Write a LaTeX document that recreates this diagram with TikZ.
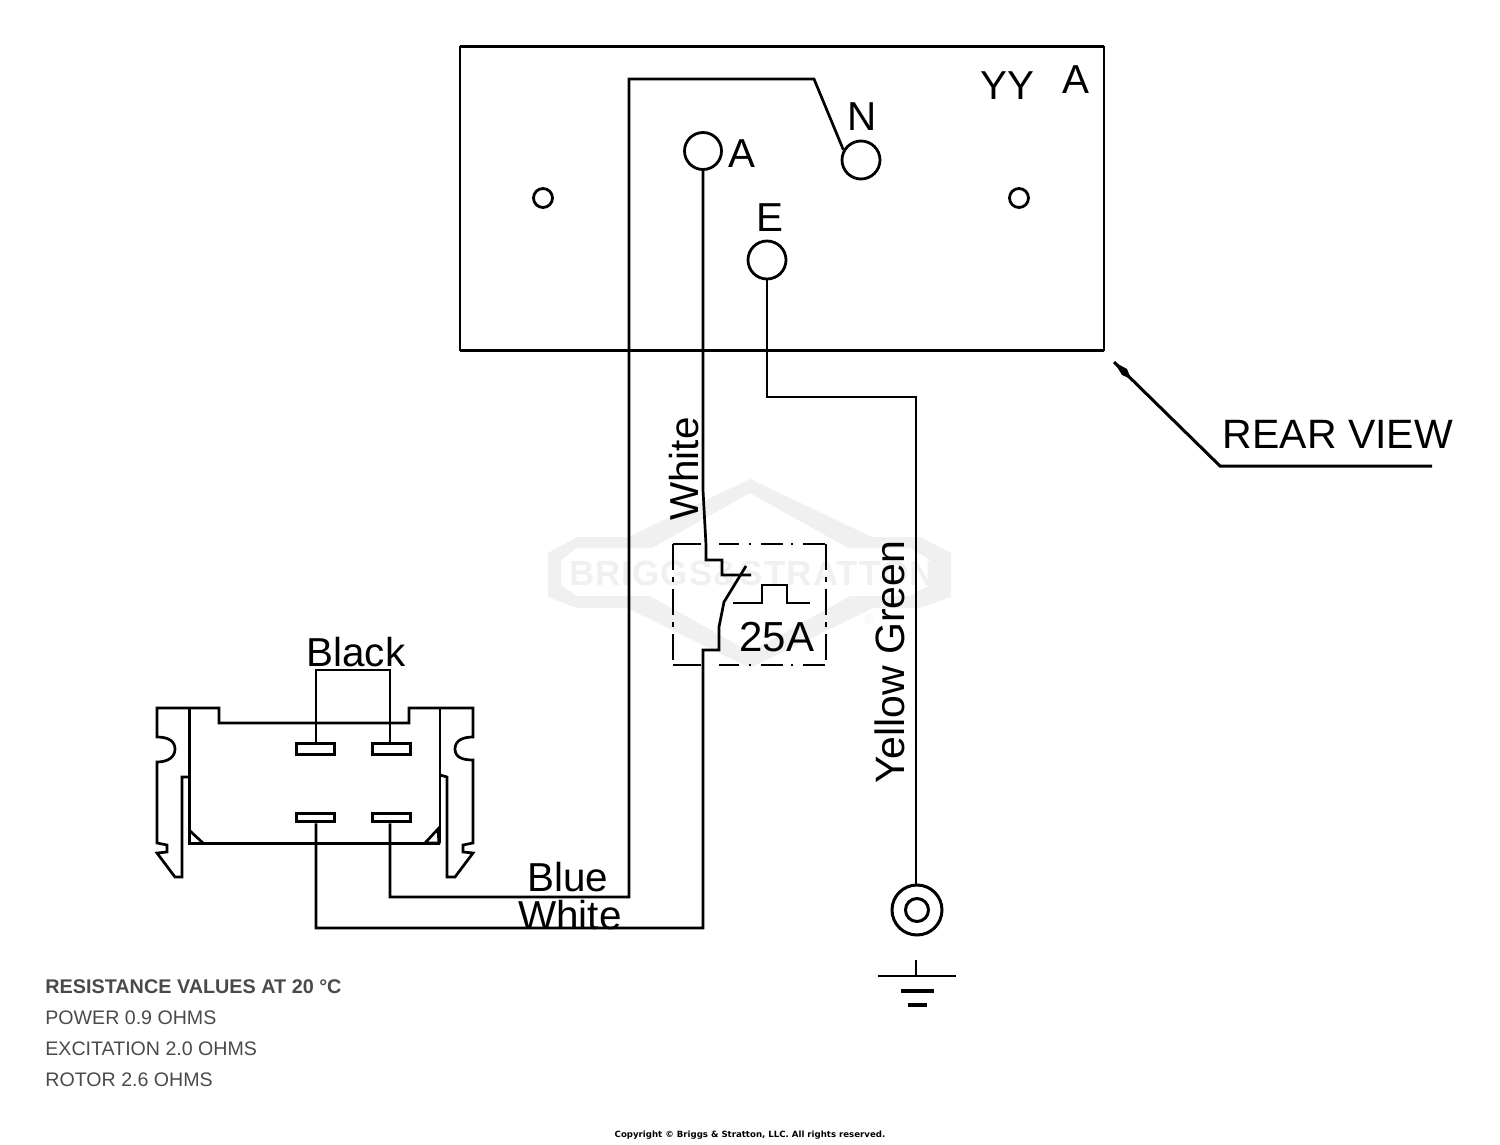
\documentclass[tikz,border=0pt]{standalone}
\usepackage{fontspec}
\setmainfont{Liberation Sans}
\newfontfamily\copyfont{DejaVu Sans}
\definecolor{wm}{HTML}{F0F0F0}
\definecolor{notegray}{HTML}{4A4A4A}
\tikzset{
  thinwire/.style={line width=1.35pt,line join=miter},
  wire/.style={line width=1.1pt,line join=miter},
  thin line/.style={line width=0.9pt,line join=round},
  terminal/.style={circle,draw,line width=1.4pt,inner sep=0pt,fill=white},
  blade/.style={rectangle,draw,line width=1.5pt,inner sep=0pt,fill=white},
  lab/.style={inner sep=0pt,font=\fontsize{20.2}{20.2}\selectfont},
  note/.style={inner sep=0pt,anchor=west,text=notegray,font=\fontsize{9.8}{12}\selectfont},
}
\begin{document}
\begin{tikzpicture}[x=0.5pt,y=-0.5pt]
\useasboundingbox (0,0) rectangle (1500,1145);
% watermark
\fill[wm,even odd rule]
  (750,479) -- (872,537) -- (920,537) -- (951,553) -- (951,597) -- (920,608) -- (873,608) -- (750,668) -- (627,608) -- (577,608) -- (548,597) -- (548,553) -- (577,537) -- (628,537) -- cycle
  (750,493) -- (848,548) -- (910,548) -- (930,560) -- (930,585) -- (910,596) -- (850,596) -- (750,652) -- (650,596) -- (577,596) -- (561,585) -- (561,560) -- (577,548) -- (652,548) -- cycle;
\node[inner sep=0pt,text=wm,font=\fontsize{17.5}{17.5}\selectfont\bfseries\addfontfeature{LetterSpace=3}] (wmtext) at (752,573) {BRIGGS\&STRATTON};
\node[inner sep=0pt,text=wm,font=\fontsize{7}{7}\selectfont] (wmr) at (869,620) {®};
% panel
\draw[line width=1.1pt] (460,47) rectangle (1104,350);
\draw[line width=1.5pt] (460,47) -- (1104,47) (460,350) -- (1104,350);
\node[terminal,minimum size=18.5pt] (A) at (703,151) {};
\node[terminal,minimum size=19pt] (N) at (861,160) {};
\node[terminal,minimum size=19pt] (E) at (767,260) {};
\node[terminal,minimum size=9.5pt] (hl) at (543,198) {};
\node[terminal,minimum size=9.5pt] (hr) at (1019,198) {};
\node[lab] (lA) at (742,154) {A};
\node[lab] (lN) at (862,117) {N};
\node[lab] (lE) at (770,218) {E};
\node[lab] (lYY) at (1007,86) {YY};
\node[lab] (lA2) at (1076,80) {A};
% connector blades
\node[blade,minimum width=19pt,minimum height=5.2pt] (b1) at (315,749) {};
\node[blade,minimum width=19pt,minimum height=5.2pt] (b2) at (391,749) {};
\node[blade,minimum width=19pt,minimum height=4.4pt] (b3) at (315,817.5) {};
\node[blade,minimum width=19pt,minimum height=4.4pt] (b4) at (391,817.5) {};
% connector housing
\draw[thinwire] (189,777) -- (182,777) -- (182,877) -- (175,877) -- (157,853) -- (167,852) -- (167,845) -- (157,843) -- (157,762)
  .. controls (168,762) and (175,757) .. (175,749) .. controls (175,741) and (168,737) .. (157,737)
  -- (157,708) -- (219,708) -- (219,723) -- (409,723) -- (409,708) -- (473,708) -- (473,737)
  .. controls (462,737) and (455,741) .. (455,749) .. controls (455,757) and (462,760) .. (473,760)
  -- (473,843) -- (463,845) -- (463,852) -- (473,853) -- (455,877) -- (447,877) -- (447,777) -- (440,775);
\draw[line width=1.5pt] (189,708) -- (189,843) -- (440,843);
\draw[thin line] (440,708) -- (440,843);
\draw[thinwire] (189,830) -- (203,843);
\draw[thinwire] (438,829) -- (425,843) -- (439,843) -- cycle;
% black bridge
\coordinate (br1) at (316,670);
\coordinate (br2) at (390,670);
\draw[wire] (b1.north -| br1) -- (br1) -- (br2) -- (b2.north -| br2);
\node[lab] (lBlack) at (356,652) {Black};
% wires
\draw[thinwire] (N.150) -- (814,79) -- (629,79) -- (629,897) -- (390,897) -- (b4.south -| 390,0);
\draw[thinwire] (A) -- (703,490) -- (706,545) -- (706,560) -- (722,560) -- (722,575) -- (751,575);
\draw[thinwire] (746,566) -- (724,602) -- (719,627) -- (719,650) -- (703,650) -- (703,928) -- (316,928) -- (b3.south -| 316,0);
\draw[thinwire] (733,603) -- (762,603) -- (762,585) -- (787,585) -- (787,603) -- (810,603);
\draw[wire,dash pattern=on 14pt off 9pt on 10pt off 5pt on 1pt off 5pt on 11pt off 4pt on 1pt off 5pt on 11pt] (673,544) -- (826,544);
\draw[wire,dash pattern=on 14pt off 9pt on 10pt off 5pt on 1pt off 5pt on 11pt off 4pt on 1pt off 5pt on 11pt] (673,665) -- (826,665);
\draw[wire,dash pattern=on 13pt off 3.5pt on 2.5pt off 3.5pt] (673,544) -- (673,665) (826,544) -- (826,665);
\node[lab,font=\fontsize{21}{21}\selectfont] (l25) at (777,637) {25A};
% ground
\node[circle,draw,line width=1.5pt,minimum size=25pt,inner sep=0pt] (nut) at (917,910) {};
\node[circle,draw,line width=1.5pt,minimum size=11.5pt,inner sep=0pt] (nutin) at (917,910) {};
\draw[thinwire] (E) -- (767,397) -- (916,397) -- (nut.north -| 916,0);
\coordinate (g0) at (916,960);
\coordinate (g1) at (916,976);
\draw[wire] (g0) -- (g1);
\draw[wire] (878,976) -- (956,976);
\draw[line width=2pt] (901,991) -- (934,991);
\draw[line width=1.8pt] (908,1005) -- (927,1005);
% rear view
\coordinate (rv0) at (1114,362);
\coordinate (rv1) at (1220,466);
\coordinate (rv2) at (1432,466);
\draw[line width=1.5pt] (rv0) -- (rv1) -- (rv2);
\fill (1114,362) -- (1127,369) -- (1131,379) -- (1122,375) -- cycle;
\node[lab,font=\fontsize{20.5}{20.5}\selectfont] (lRear) at (1338,434) {REAR VIEW};
% wire labels
\node[lab] (lBlue) at (568,877) {Blue};
\node[lab] (lWhite) at (570,915) {White};
\node[lab,rotate=90] (lW2) at (684,469) {White};
\node[lab,rotate=90,font=\fontsize{20.5}{20.5}\selectfont] (lYG) at (890,662) {Yellow Green};
% notes
\node[note,font=\fontsize{9.9}{12}\selectfont\bfseries] (n1) at (45,987) {RESISTANCE VALUES AT 20 °C};
\node[note] (n2) at (45,1018) {POWER 0.9 OHMS};
\node[note] (n3) at (45,1049) {EXCITATION 2.0 OHMS};
\node[note] (n4) at (45,1080) {ROTOR 2.6 OHMS};
\node[inner sep=0pt,font=\fontsize{4.3}{6}\copyfont\bfseries] (copy) at (750,1135) {Copyright © Briggs \& Stratton, LLC. All rights reserved.};
\end{tikzpicture}
\end{document}
